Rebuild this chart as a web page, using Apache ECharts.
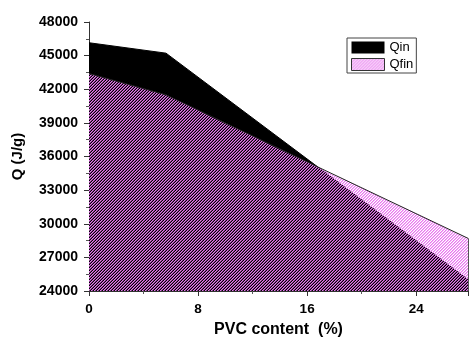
<!DOCTYPE html>
<html>
<head>
<meta charset="utf-8">
<script src="https://cdn.jsdelivr.net/npm/echarts@6/dist/echarts.min.js"></script>
<style>
  html, body { margin: 0; padding: 0; background: #fff; }
  #chart { width: 471px; height: 343px; }
</style>
</head>
<body>
<div id="chart"></div>
<script>
// PVC content (%) and heat values Q (J/g)
const pvcContent = [0, 5.65, 27.8];
const qIn  = [46150, 45220, 25020];
const qFin = [43400, 41500, 28700];

const yMin = 24000, yMax = 48000, yStep = 3000;
const xMin = 0, xMax = 27.8, xStep = 8;

// diagonal "/" hatch with transparent gaps
function hatchPattern() {
  const n = 3;
  const c = document.createElement('canvas');
  c.width = n; c.height = n;
  const ctx = c.getContext('2d');
  const img = ctx.createImageData(n, n);
  for (let y = 0; y < n; y++) {
    for (let x = 0; x < n; x++) {
      const k = (x + y) % n;
      const i = (y * n + x) * 4;
      img.data[i] = 0xe8; img.data[i + 1] = 0x78; img.data[i + 2] = 0xee;
      img.data[i + 3] = k === 0 ? 255 : (k === 1 ? 140 : 0);
    }
  }
  ctx.putImageData(img, 0, 0);
  return { image: c, repeat: 'repeat' };
}
const hatch = hatchPattern();

const toPairs = (xs, ys) => xs.map((x, i) => [x, ys[i]]);
const last = pvcContent.length - 1;
const plain = v => String(v);

const chart = echarts.init(document.getElementById('chart'), null, { renderer: 'canvas' });
chart.setOption({
  animation: false,
  backgroundColor: '#fff',
  textStyle: { fontFamily: 'Liberation Sans, Arial, sans-serif' },
  grid: { left: 89, top: 22, right: 3, bottom: 50, containLabel: false },
  legend: {
    orient: 'vertical',
    left: 347, top: 38,
    padding: [3, 3, 2, 4],
    itemWidth: 33, itemHeight: 12, itemGap: 4,
    borderColor: '#444', borderWidth: 1, borderRadius: 0,
    textStyle: { fontSize: 13, color: '#000', fontFamily: 'Liberation Sans, Arial, sans-serif' },
    data: [
      { name: 'Qin', icon: 'rect', itemStyle: { color: '#000', borderWidth: 0 } },
      { name: 'Qfin', icon: 'rect', itemStyle: { color: hatch, borderColor: '#333', borderWidth: 1 } }
    ]
  },
  xAxis: {
    type: 'value',
    min: xMin, max: xMax, interval: xStep,
    name: 'PVC content  (%)',
    nameLocation: 'middle', nameGap: 31,
    nameTextStyle: { fontSize: 16, fontWeight: 'bold', color: '#000' },
    axisLine: { show: true, onZero: false, lineStyle: { color: '#333', width: 1 } },
    axisTick: { show: true, inside: false, length: 5, lineStyle: { color: '#333' } },
    minorTick: { show: true, splitNumber: 2, length: 3, lineStyle: { color: '#555' } },
    axisLabel: { fontSize: 13.5, fontWeight: 'bold', color: '#000', margin: 11, showMaxLabel: false, formatter: plain },
    splitLine: { show: false }
  },
  yAxis: {
    type: 'value',
    min: yMin, max: yMax, interval: yStep,
    name: 'Q (J/g)',
    nameLocation: 'middle', nameGap: 64, nameRotate: 90,
    nameTextStyle: { fontSize: 15, fontWeight: 'bold', color: '#000' },
    axisLine: { show: true, onZero: false, lineStyle: { color: '#333', width: 1 } },
    axisTick: { show: true, inside: false, length: 5, lineStyle: { color: '#333' } },
    minorTick: { show: true, splitNumber: 2, length: 3, lineStyle: { color: '#555' } },
    axisLabel: { fontSize: 14, fontWeight: 'bold', color: '#000', margin: 11, formatter: plain },
    splitLine: { show: false }
  },
  series: [
    {
      name: 'Qin',
      type: 'line',
      data: toPairs(pvcContent, qIn),
      symbol: 'none',
      itemStyle: { color: '#000' },
      lineStyle: { color: '#000', width: 1 },
      areaStyle: { color: '#000', opacity: 1, origin: 'start' },
      z: 2
    },
    {
      name: 'Qfin',
      type: 'line',
      data: toPairs(pvcContent, qFin),
      symbol: 'none',
      itemStyle: { color: hatch },
      lineStyle: { color: '#222', width: 1 },
      areaStyle: { color: hatch, opacity: 1, origin: 'start' },
      markLine: {
        silent: true,
        symbol: 'none',
        label: { show: false },
        lineStyle: { color: '#555', width: 1, type: 'solid' },
        data: [[
          { coord: [pvcContent[last], yMin] },
          { coord: [pvcContent[last], qFin[last]] }
        ]]
      },
      z: 3
    }
  ]
});
</script>
</body>
</html>
